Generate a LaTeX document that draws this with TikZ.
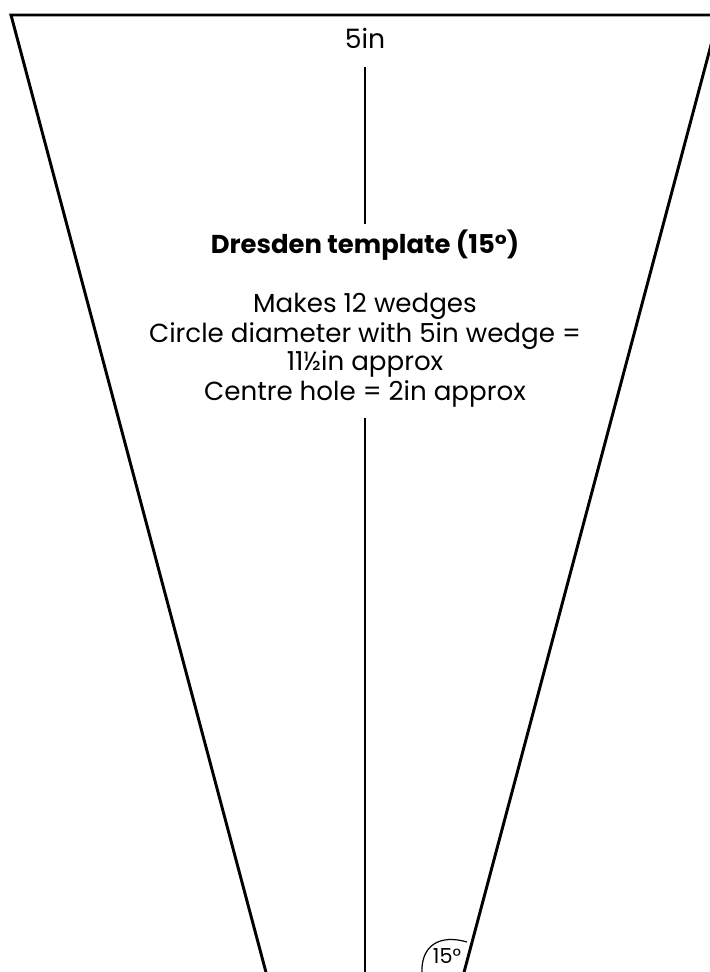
\documentclass[tikz,border=0pt]{standalone}
\usepackage{fontspec}
\setmainfont{Poppins}
\begin{document}
\begin{tikzpicture}[x=0.75pt,y=-0.75pt,
  outline/.style={line width=2.2pt,line join=miter},
  axis/.style={line width=0.8pt},
  txt/.style={anchor=base,inner sep=0pt,font=\fontsize{19.6pt}{22pt}\selectfont},
  ttl/.style={anchor=base,inner sep=0pt,font=\fontsize{19.4pt}{22pt}\selectfont\bfseries}]
\useasboundingbox (0,0) rectangle (710,972);
\clip (0,0) rectangle (710,972);
% wedge
\coordinate (tl) at (11,15);
\coordinate (tr) at (719,15);
\coordinate (apex) at (365,1344);
\draw[outline] (apex) -- (tl) -- (tr) -- cycle;
% texts
\node[txt,font=\fontsize{20pt}{24pt}\selectfont] (top) at (365,48) {5in};
\node[ttl] (title) at (365,253) {Dresden template (15°)};
\node[txt] (l1) at (365,312) {Makes 12 wedges};
\node[txt] (l2) at (365,342) {Circle diameter with 5in wedge =};
\node[txt] (l3) at (365,370) {11½in approx};
\node[txt] (l4) at (365,400) {Centre hole = 2in approx};
\node[txt,font=\fontsize{15.5pt}{18pt}\selectfont] (ang) at (447,963) {15°};
% centre line
\coordinate (c1) at (365,67);
\coordinate (c2) at (365,224);
\coordinate (c3) at (365,418);
\coordinate (c4) at (365,980);
\draw[axis] (c1) -- (c2);
\draw[axis] (c3) -- (c4);
% angle arc
\coordinate (a1) at (422,975);
\coordinate (a2) at (467,942);
\draw[line width=0.9pt] (a1) .. controls (420,945) and (440,934) .. (a2);
\end{tikzpicture}
\end{document}
